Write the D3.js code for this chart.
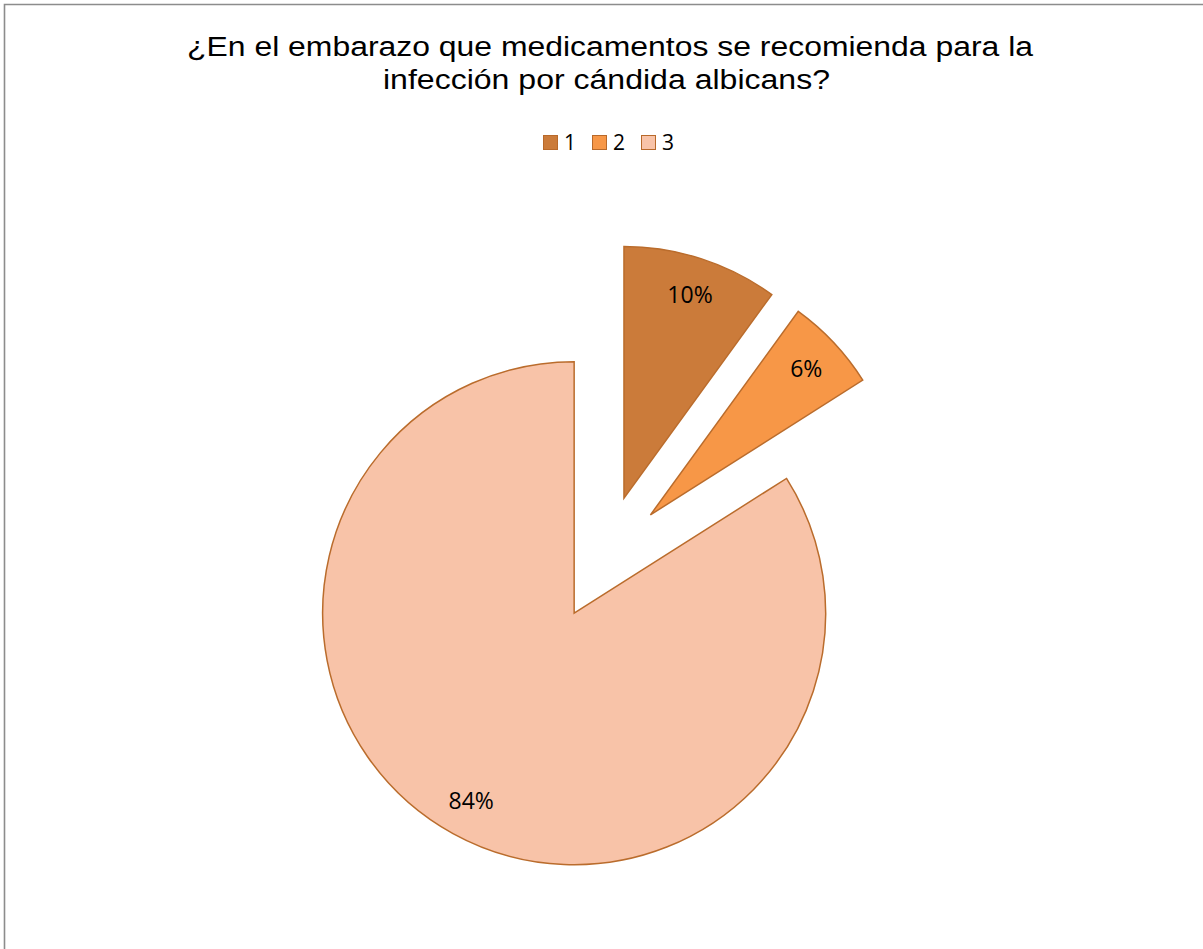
<!DOCTYPE html>
<html>
<head>
<meta charset="utf-8">
<script src="https://cdn.jsdelivr.net/npm/d3@7"></script>
<style>
  html, body { margin: 0; padding: 0; background: #fff; }
  svg { display: block; }
</style>
</head>
<body>
<script>
// Chart data
const categories = ["1", "2", "3"];
const values = [10, 6, 84];
const sliceColors = ["#CB7B3A", "#F79747", "#F8C3A8"];
const titleLines = [
  "¿En el embarazo que medicamentos se recomienda para la",
  "infección por cándida albicans?"
];

const W = 1203, H = 949;
const svg = d3.select("body").append("svg").attr("width", W).attr("height", H);

// chart area frame (top and left edges visible)
svg.append("path")
  .attr("d", `M4.5,${H} L4.5,4.5 L${W},4.5`)
  .attr("fill", "none")
  .attr("stroke", "#8c8c8c")
  .attr("stroke-width", 1.6);

// title, two centred lines with wide glyphs
const titleLayout = [
  { cx: 610, y: 56, w: 846 },
  { cx: 606.5, y: 88.5, w: 447 }
];
svg.append("g")
  .attr("font-family", "Liberation Sans, Arial, sans-serif")
  .attr("font-size", 27)
  .attr("fill", "#000")
  .selectAll("text")
  .data(titleLines)
  .join("text")
  .attr("x", (d, i) => titleLayout[i].cx - titleLayout[i].w / 2)
  .attr("y", (d, i) => titleLayout[i].y)
  .attr("textLength", (d, i) => titleLayout[i].w)
  .attr("lengthAdjust", "spacingAndGlyphs")
  .text(d => d);

// legend
const legend = svg.append("g").attr("transform", "translate(543,135)");
const legendX = d3.scalePoint().domain(categories).range([0, 98]);
const item = legend.selectAll("g").data(categories).join("g")
  .attr("transform", d => `translate(${legendX(d)},0)`);
item.append("rect")
  .attr("x", 0.5).attr("y", 0.5)
  .attr("width", 14).attr("height", 14)
  .attr("fill", (d, i) => sliceColors[i])
  .attr("stroke", "#B8692A")
  .attr("stroke-width", 1);
item.append("text")
  .attr("x", 21).attr("y", 15)
  .attr("font-family", "Open Sans, Noto Sans, sans-serif")
  .attr("font-size", 21)
  .attr("fill", "#000")
  .text(d => d);

// exploded pie
const cx = 604.5, cy = 558, r = 251.5, explode = 63;
const pie = d3.pie().sort(null).value(d => d);
const arcs = pie(values);
const arc = d3.arc().innerRadius(0).outerRadius(r);
const total = d3.sum(values);

const g = svg.append("g").attr("transform", `translate(${cx},${cy})`);
const slice = g.selectAll("g.slice").data(arcs).join("g")
  .attr("class", "slice")
  .attr("transform", d => {
    const a = (d.startAngle + d.endAngle) / 2;
    return `translate(${explode * Math.sin(a)},${-explode * Math.cos(a)})`;
  });

slice.append("path")
  .attr("d", arc)
  .attr("fill", (d, i) => sliceColors[i])
  .attr("stroke", "#BA6C2C")
  .attr("stroke-width", 1.5)
  .attr("stroke-linejoin", "miter");

slice.append("text")
  .attr("transform", d => {
    const a = (d.startAngle + d.endAngle) / 2;
    const lr = r * 0.85;
    return `translate(${lr * Math.sin(a)},${-lr * Math.cos(a)})`;
  })
  .attr("text-anchor", "middle")
  .attr("dy", "0.36em")
  .attr("font-family", "Open Sans, Noto Sans, sans-serif")
  .attr("font-size", 23)
  .attr("fill", "#000")
  .text(d => Math.round(d.data / total * 100) + "%");
</script>
</body>
</html>
